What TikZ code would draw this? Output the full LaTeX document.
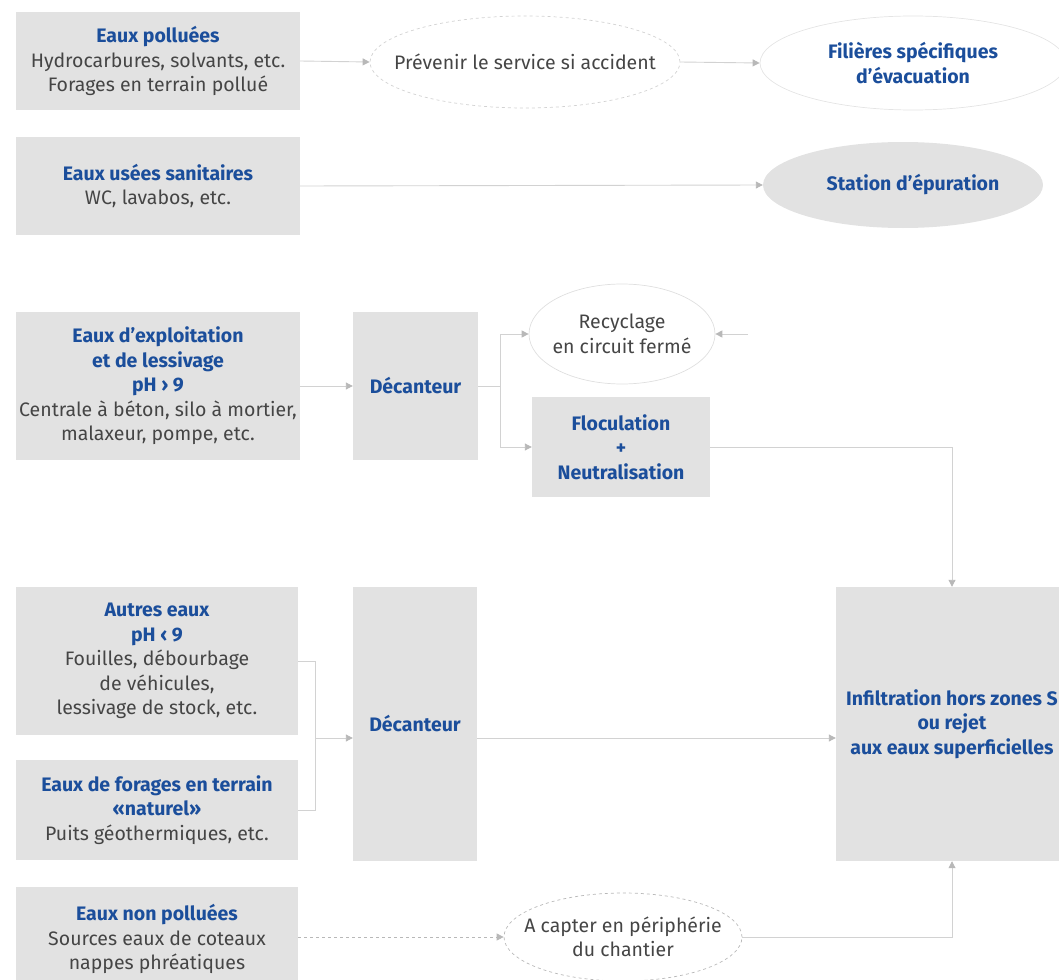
\documentclass[tikz,border=0pt]{standalone}
\usepackage{fontspec}
\setmainfont{Fira Sans}
\usetikzlibrary{shapes.geometric,arrows.meta}
\definecolor{boxgray}{HTML}{E2E2E2}
\definecolor{tblue}{HTML}{1B4E9B}
\definecolor{tgray}{HTML}{454545}
\definecolor{lgray}{HTML}{D2D2D2}
\definecolor{agray}{HTML}{B8B8B8}
\newcommand{\ttl}[1]{\textcolor{tblue}{\bfseries #1}}
\begin{document}
\begin{tikzpicture}[x=1pt,y=-1pt,
  every node/.style={font=\fontsize{19.5}{24.5}\selectfont, text=tgray, align=center, inner sep=0pt},
  box/.style={fill=boxgray, draw=none},
  oval/.style={ellipse, draw=lgray, line width=0.7pt},
  dashoval/.style={ellipse, draw=agray, dashed, line width=0.7pt},
  conn/.style={draw=lgray, line width=0.9pt},
  arr/.style={conn, -{Triangle[length=7pt,width=7pt,color=agray]}},
  dasharr/.style={draw=agray, dashed, line width=0.8pt, -{Triangle[length=7pt,width=7pt,color=agray]}}
]
\useasboundingbox (0,0) rectangle (1059,979);
\begin{scope}
\clip (0,0) rectangle (1059,979);

% left column boxes
\node[box, minimum width=284, minimum height=98] (p) at (158,61)
  {\ttl{Eaux polluées}\\Hydrocarbures, solvants, etc.\\Forages en terrain pollué};
\node[box, minimum width=284, minimum height=98] (s) at (158,186)
  {\ttl{Eaux usées sanitaires}\\WC, lavabos, etc.};
\node[box, minimum width=284, minimum height=148] (e) at (158,386)
  {\ttl{Eaux d'exploitation}\\\ttl{et de lessivage}\\\ttl{pH › 9}\\Centrale à béton, silo à mortier,\\malaxeur, pompe, etc.};
\node[box, minimum width=282, minimum height=148] (a) at (157,661)
  {\ttl{Autres eaux}\\\ttl{pH ‹ 9}\\Fouilles, débourbage\\de véhicules,\\lessivage de stock, etc.};
\node[box, minimum width=282, minimum height=100] (f) at (157,810)
  {\ttl{Eaux de forages en terrain}\\\ttl{«naturel»}\\Puits géothermiques, etc.};
\node[box, minimum width=282, minimum height=104] (n) at (157,939)
  {\ttl{Eaux non polluées}\\Sources eaux de coteaux\\nappes phréatiques};

% middle column
\node[box, minimum width=125, minimum height=148] (d1) at (415.5,386) {\ttl{Décanteur}};
\node[box, minimum width=124, minimum height=274] (d2) at (415,724) {\ttl{Décanteur}};
\node[box, minimum width=178, minimum height=100] (fl) at (621,447)
  {\ttl{Floculation}\\\ttl{+}\\\ttl{Neutralisation}};

% ellipses
\node[dashoval, draw=lgray, minimum width=310, minimum height=92,
  label={center:Prévenir le service si accident}] (pv) at (525,62) {};
\node[oval, draw=lgray!60, minimum width=306, minimum height=94,
  label={center:\ttl{Filières spécifiques}\\\ttl{d'évacuation}}] (fs) at (913,63) {};
\node[ellipse, fill=boxgray, minimum width=280, minimum height=86,
  label={[xshift=10pt]center:\ttl{Station d'épuration}}] (st) at (903,185) {};
\node[oval, draw=lgray!70, minimum width=186, minimum height=100,
  label={center:Recyclage\\en circuit fermé}] (rc) at (622,334) {};
\node[dashoval, minimum width=238, minimum height=88,
  label={center:A capter en périphérie\\du chantier}] (ac) at (623,937) {};

% right box
\node[box, minimum width=232, minimum height=274] (in) at (952,724)
  {\ttl{Infiltration hors zones S}\\\ttl{ou rejet}\\\ttl{aux eaux superficielles}};

% connectors
\draw[arr] (p.east) -- (pv.west);
\draw[arr] (pv.east) -- (fs.west);
\draw[arr] (s.east) -- (st.west);
\draw[arr] (e.east) -- (d1.west);

\coordinate (j1) at (500,386);
\coordinate (j1t) at (500,334);
\coordinate (j1b) at (500,447);
\draw[conn] (d1.east) -- (j1);
\draw[conn] (j1t) -- (j1b);
\draw[arr] (j1t) -- (rc.west);
\draw[arr] (j1b) -- (fl.west);
\coordinate (rcin) at (748,334);
\draw[arr] (rcin) -- (rc.east);

\draw[arr] (fl.east) -| (in.north);

\coordinate (j2) at (315,738);
\draw[conn] (a.east) -| (j2);
\draw[conn] (f.east) -| (j2);
\draw[arr] (j2) -- (j2 -| d2.west);
\draw[arr] (d2.east |- j2) -- (in.west |- j2);

\draw[dasharr] (n.east |- ac.west) -- (ac.west);
\draw[arr] (ac.east) -| (in.south);
\end{scope}
\end{tikzpicture}
\end{document}
